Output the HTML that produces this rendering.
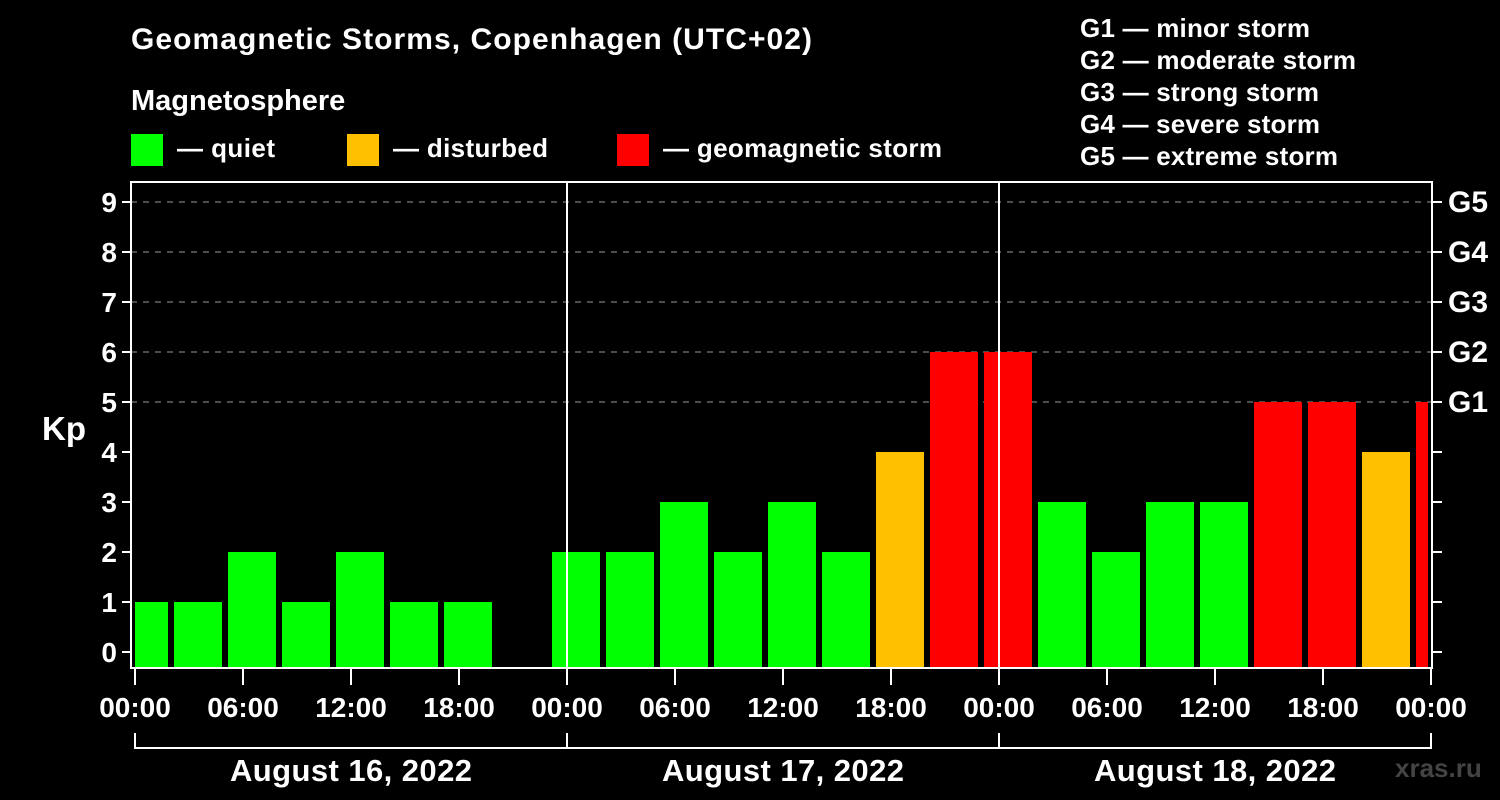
<!DOCTYPE html>
<html><head><meta charset="utf-8"><style>
html,body{margin:0;padding:0;background:#000;}
svg{display:block;font-family:"Liberation Sans",Arial,sans-serif;font-weight:bold;}
</style></head><body>
<svg id="c" width="1500" height="800" viewBox="0 0 1500 800">
<text x="131" y="49" fill="#fff" font-size="30" textLength="681">Geomagnetic Storms, Copenhagen (UTC+02)</text>
<text x="131" y="110" fill="#fff" font-size="29">Magnetosphere</text>
<g><rect x="131" y="134" width="32" height="32" fill="#00ff00"/><text x="177" y="157" fill="#fff" font-size="26" textLength="98">— quiet</text></g>
<g><rect x="347" y="134" width="32" height="32" fill="#ffc000"/><text x="393" y="157" fill="#fff" font-size="26" textLength="155">— disturbed</text></g>
<g><rect x="617" y="134" width="32" height="32" fill="#ff0000"/><text x="663" y="157" fill="#fff" font-size="26" textLength="279">— geomagnetic storm</text></g>
<g fill="#fff" font-size="26">
<text x="1080" y="37" textLength="230">G1 — minor storm</text>
<text x="1080" y="69" textLength="276">G2 — moderate storm</text>
<text x="1080" y="101" textLength="239">G3 — strong storm</text>
<text x="1080" y="133" textLength="240">G4 — severe storm</text>
<text x="1080" y="165" textLength="258">G5 — extreme storm</text>
</g>
<text x="42" y="440" fill="#fff" font-size="33">Kp</text>
<text x="1395" y="777" fill="#444" font-size="26">xras.ru</text>
<g id="grid"></g><g id="bars"></g><g id="axes"></g>
</svg>
<script>
const kpValues=[1,1,2,1,2,1,1,null,2,2,3,2,3,2,4,6,6,3,2,3,3,5,5,4,5];
const dayLabels=["August 16, 2022","August 17, 2022","August 18, 2022"];
const hourLabels=["00:00","06:00","12:00","18:00"];
const gLabels=["G1","G2","G3","G4","G5"];
const NS="http://www.w3.org/2000/svg";
const L=131,R=1432,T=182,B=668,X0=135,PXH=18;
const y=k=>652-50*k;
const xh=h=>X0+h*PXH;
function mk(tag,attrs,parent){const e=document.createElementNS(NS,tag);for(const k in attrs)e.setAttribute(k,attrs[k]);document.getElementById(parent).appendChild(e);return e;}
for(let k=0;k<=9;k++){
  let e=mk('line',{x1:L,x2:R,y1:y(k),y2:y(k),stroke:k>=5?'#999':'none','stroke-dasharray':'6,6'},'grid');
  
  
}
kpValues.forEach((v,i)=>{
  if(v===null)return;
  const x1=Math.max(X0,xh(i*3)-15),x2=Math.min(R-4,xh(i*3)+33);
  const c=v>=5?'#ff0000':v>=4?'#ffc000':'#00ff00';
  const r=mk('rect',{x:x1,y:y(v),width:x2-x1,height:B-y(v),fill:c},'bars');
  
  
});
const a='axes';
mk('rect',{x:L,y:T,width:R-L,height:B-T,fill:'none',stroke:'#fff','stroke-width':2},a);
for(let d=1;d<3;d++){const e=mk('line',{x1:xh(d*24),x2:xh(d*24),y1:T,y2:B,stroke:'#fff','stroke-width':2},a);}
for(let k=0;k<=9;k++){
  mk('line',{x1:L-9,x2:L,y1:y(k),y2:y(k),stroke:'#fff','stroke-width':2},a);
  mk('line',{x1:R,x2:R+10,y1:y(k),y2:y(k),stroke:'#fff','stroke-width':2},a);
  const t=mk('text',{x:L-14,y:y(k)+10,fill:'#fff','font-size':28,'text-anchor':'end'},a);t.textContent=k;
  
  
  if(k>=5){const g=mk('text',{x:1448,y:y(k)+10,fill:'#fff','font-size':30},a);g.textContent=gLabels[k-5];
  
  }
}
for(let h=0;h<=72;h+=6){
  mk('line',{x1:xh(h),x2:xh(h),y1:B,y2:B+17,stroke:'#fff','stroke-width':2},a);
  const t=mk('text',{x:xh(h),y:717,fill:'#fff','font-size':28,'text-anchor':'middle'},a);t.textContent=hourLabels[(h/6)%4];
  
  
}
mk('line',{x1:xh(0),x2:xh(72),y1:748,y2:748,stroke:'#fff','stroke-width':2},a);
dayLabels.forEach((d,i)=>{
  mk('line',{x1:xh(i*24),x2:xh(i*24),y1:733,y2:749,stroke:'#fff','stroke-width':2},a);
  const t=mk('text',{x:xh(i*24+12),y:781,fill:'#fff','font-size':31,'text-anchor':'middle',textLength:242},a);t.textContent=d;
  
  
});
mk('line',{x1:xh(72),x2:xh(72),y1:733,y2:749,stroke:'#fff','stroke-width':2},a);
</script>
</body></html>
